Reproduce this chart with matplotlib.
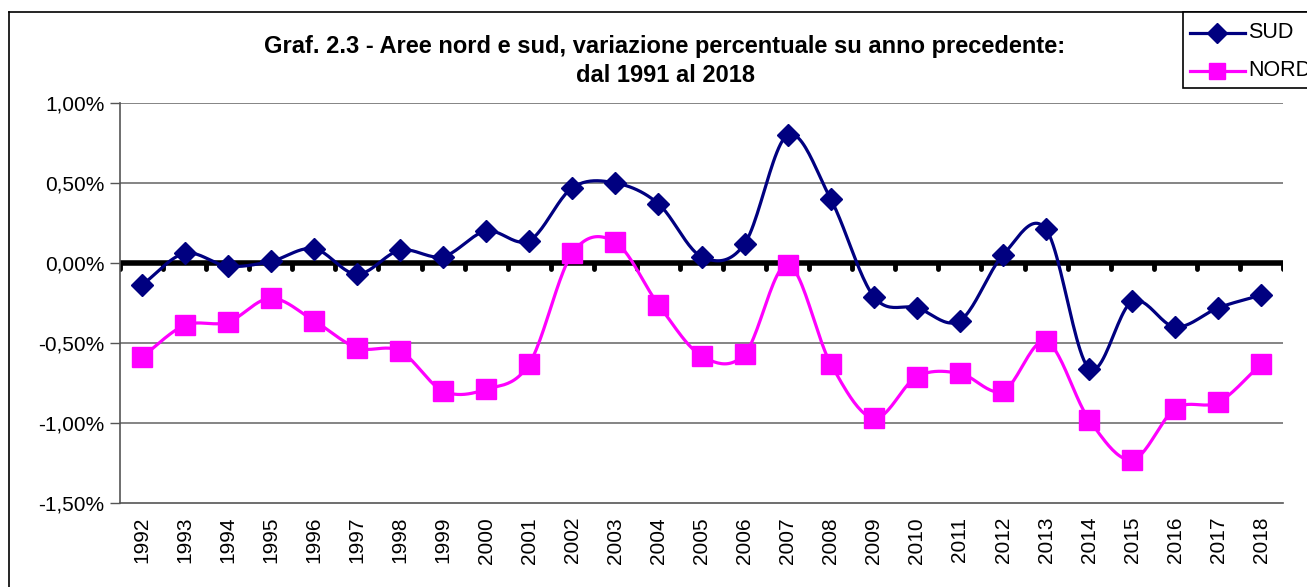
import numpy as np
import matplotlib
matplotlib.use('Agg')
import matplotlib.pyplot as plt
from matplotlib.lines import Line2D
from matplotlib.patches import Rectangle

plt.rcParams['font.family'] = ['Liberation Sans', 'DejaVu Sans']

years = [str(y) for y in range(1992, 2019)]
sud = [-0.14, 0.06, -0.02, 0.01, 0.09, -0.07, 0.08, 0.04, 0.20, 0.14,
       0.47, 0.50, 0.37, 0.04, 0.12, 0.80, 0.40, -0.21, -0.28, -0.36,
       0.05, 0.21, -0.66, -0.24, -0.40, -0.28, -0.20]
nord = [-0.59, -0.39, -0.37, -0.22, -0.36, -0.53, -0.55, -0.80, -0.79, -0.63,
        0.06, 0.13, -0.26, -0.58, -0.57, -0.01, -0.63, -0.97, -0.71, -0.69,
        -0.80, -0.49, -0.98, -1.23, -0.91, -0.87, -0.63]
y_ticks = [1.0, 0.5, 0.0, -0.5, -1.0, -1.5]
y_labels = ['1,00%', '0,50%', '0,00%', '-0,50%', '-1,00%', '-1,50%']


def smooth(x, y, steps=24):
    # catmull-rom, like excel's "smoothed line"
    x = np.asarray(x, float)
    y = np.asarray(y, float)
    px = np.concatenate([[2 * x[0] - x[1]], x, [2 * x[-1] - x[-2]]])
    py = np.concatenate([[2 * y[0] - y[1]], y, [2 * y[-1] - y[-2]]])
    t = np.linspace(0, 1, steps, endpoint=False)[:, None]
    out_x, out_y = [], []
    for i in range(1, len(px) - 2):
        for p, out in ((px, out_x), (py, out_y)):
            p0, p1, p2, p3 = p[i - 1], p[i], p[i + 1], p[i + 2]
            v = 0.5 * (2 * p1 + (-p0 + p2) * t + (2 * p0 - 5 * p1 + 4 * p2 - p3) * t ** 2
                       + (-p0 + 3 * p1 - 3 * p2 + p3) * t ** 3)
            out.extend(v.ravel())
    out_x.append(x[-1])
    out_y.append(y[-1])
    return np.array(out_x), np.array(out_y)


W, H = 1307, 587
fig = plt.figure(figsize=(W / 100, H / 100), dpi=100)
ax = fig.add_axes([120 / W, (H - 503) / H, 1163 / W, 400 / H])

x = np.arange(len(years))
for vals, col, mk, ms in ((nord, '#FF00FF', 's', 14), (sud, '#000080', 'D', 11.5)):
    sx, sy = smooth(x, vals)
    ax.plot(sx, sy, color=col, lw=2.3, zorder=3)
    ax.plot(x, vals, ls='none', marker=mk, ms=ms, color=col, zorder=4)

ax.set_xlim(-0.5, len(years) - 0.5)
ax.set_ylim(-1.5, 1.0)
ax.set_yticks(y_ticks)
ax.set_yticklabels(y_labels, fontsize=15)
ax.set_xticks(x)
ax.set_xticklabels(years, rotation=90, fontsize=15)
ax.tick_params(axis='x', length=0, pad=10)
ax.tick_params(axis='y', length=7, width=1, color='#555555', pad=4)

for v in y_ticks:
    if v not in (0.0, -1.5):
        ax.axhline(v, color='#707070', lw=1.2, zorder=1)
ax.axhline(0, color='black', lw=4, zorder=2)
ax.vlines(np.arange(len(years) + 1) - 0.5, -0.035, 0, color='black', lw=3.5,
          capstyle='round', zorder=2)

for s in ('top', 'right'):
    ax.spines[s].set_visible(False)
for s in ('left', 'bottom'):
    ax.spines[s].set_color('#555555')
    ax.spines[s].set_linewidth(1.2)

fig.text(665 / W, 1 - 46 / H, 'Graf. 2.3 - Aree nord e sud, variazione percentuale su anno precedente:',
         ha='center', va='center', fontsize=17, fontweight='bold')
fig.text(665 / W, 1 - 75 / H, 'dal 1991 al 2018',
         ha='center', va='center', fontsize=17, fontweight='bold')

# chart frame
fig.add_artist(Line2D([9 / W, 9 / W], [0, 1 - 12 / H], color='black', lw=1.2,
                      transform=fig.transFigure))
fig.add_artist(Line2D([9 / W, 1], [1 - 12 / H, 1 - 12 / H], color='black', lw=1.2,
                      transform=fig.transFigure))

# legend
fig.add_artist(Rectangle((1183 / W, 1 - 88 / H), 200 / W, 76 / H, facecolor='white',
                         edgecolor='black', lw=1.2, transform=fig.transFigure, zorder=5))
for yy, col, mk, ms, lab in ((33, '#000080', 'D', 10, 'SUD'), (71, '#FF00FF', 's', 11, 'NORD')):
    fig.add_artist(Line2D([1190 / W, 1245 / W], [1 - yy / H] * 2, color=col, lw=2.3,
                          transform=fig.transFigure, zorder=6))
    fig.add_artist(Line2D([1217 / W], [1 - yy / H], marker=mk, ms=ms, color=col,
                          transform=fig.transFigure, zorder=6))
    fig.text(1248 / W, 1 - yy / H, lab, ha='left', va='center', fontsize=15.5, zorder=7)

fig.savefig('out.png', dpi=100)
